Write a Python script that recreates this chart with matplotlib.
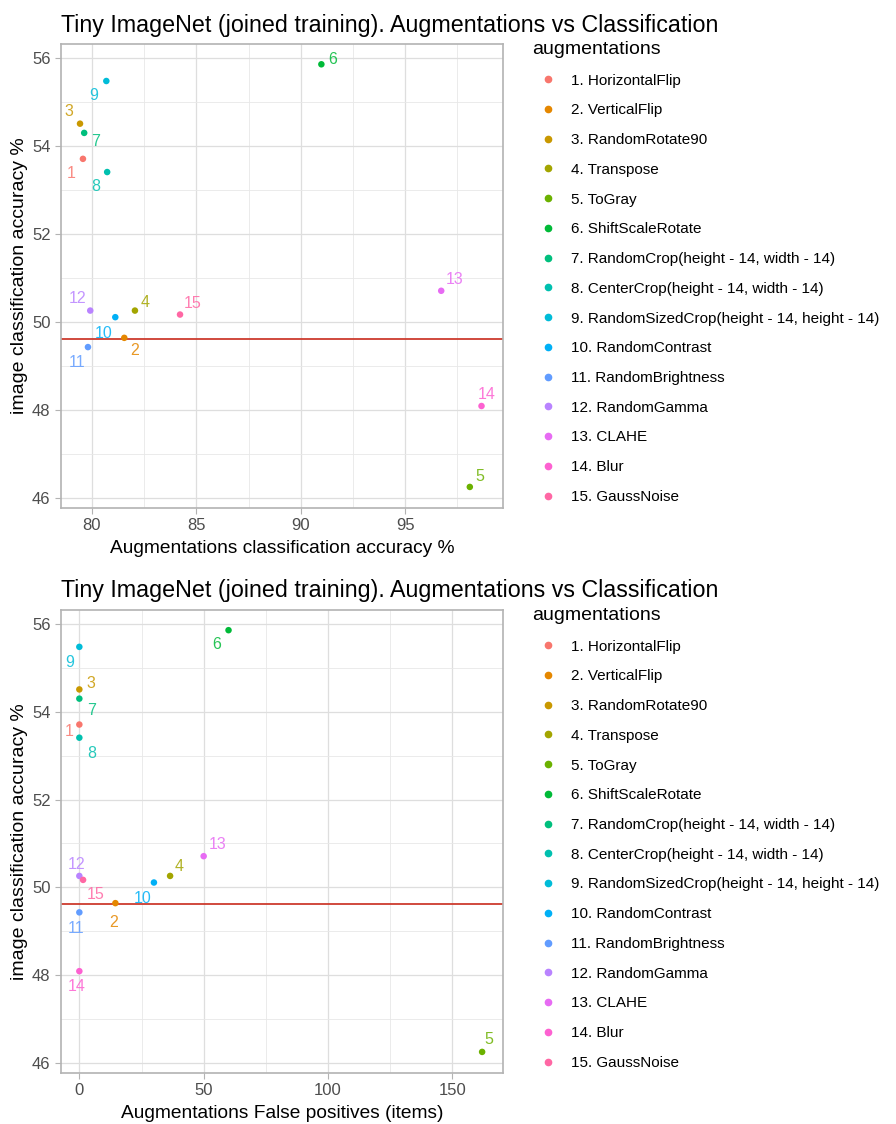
import matplotlib
matplotlib.use("Agg")
import matplotlib.pyplot as plt
from matplotlib.lines import Line2D
from matplotlib.ticker import MultipleLocator

plt.rcParams['font.family'] = ['Liberation Sans', 'DejaVu Sans']

# augmentation names (legend order)
names = [
    "1. HorizontalFlip", "2. VerticalFlip", "3. RandomRotate90", "4. Transpose",
    "5. ToGray", "6. ShiftScaleRotate", "7. RandomCrop(height - 14, width - 14)",
    "8. CenterCrop(height - 14, width - 14)",
    "9. RandomSizedCrop(height - 14, height - 14)", "10. RandomContrast",
    "11. RandomBrightness", "12. RandomGamma", "13. CLAHE", "14. Blur",
    "15. GaussNoise",
]
ids = [str(i) for i in range(1, 16)]

# image classification accuracy % (y in both panels)
img_acc = [53.71, 49.64, 54.51, 50.26, 46.25, 55.86, 54.30, 53.41, 55.48,
           50.11, 49.43, 50.26, 50.71, 48.09, 50.17]
# augmentations classification accuracy % (x, top panel)
aug_acc = [79.57, 81.55, 79.43, 82.06, 98.10, 90.99, 79.63, 80.73, 80.69,
           81.12, 79.81, 79.92, 96.73, 98.66, 84.22]
# augmentations false positives (x, bottom panel)
false_pos = [0, 14.5, 0, 36.5, 162, 60, 0, 0, 0, 30, 0, 0, 50, 0, 1.5]

baseline = 49.61

colors = ["#F8766D", "#E58700", "#C99800", "#A3A500", "#6BB100", "#00BA38",
          "#00BF7D", "#00C0AF", "#00BCD8", "#00B0F6", "#619CFF", "#B983FF",
          "#E76BF3", "#FD61D1", "#FF67A4"]

# label offsets (pixels, x right / y up), mimic the repelled labels
off_top = [(-12, -15), (10, -13), (-11, 12), (10, 8), (10, 10), (11, 5),
           (11, -9), (-11, -14), (-13, -14), (-12, -16), (-11, -15), (-13, 12),
           (13, 11), (5, 12), (13, 11)]
off_bot = [(-10, -7), (-2, -19), (12, 6), (9, 9), (7, 12), (-12, -14),
           (12, -12), (12, -16), (-10, -16), (-11, -16), (-3, -16), (-3, 11),
           (14, 12), (-3, -15), (13, -15)]

fig = plt.figure(figsize=(8.96, 11.24), dpi=100)
ax1 = fig.add_axes([0.0681, 0.548, 0.4933, 0.4128])
ax2 = fig.add_axes([0.0681, 0.0454, 0.4933, 0.4119])

title = "Tiny ImageNet (joined training). Augmentations vs Classification"


def draw(ax, xs, offs, xlabel, xlim, xmaj, xmin):
    ax.set_axisbelow(True)
    ax.scatter(xs, img_acc, c=colors, s=22, zorder=3, linewidths=0)
    for x, y, t, c, o in zip(xs, img_acc, ids, colors, offs):
        ax.annotate(t, (x, y), xytext=o, textcoords='offset pixels',
                    ha='center', va='center', color=c, fontsize=11.5, alpha=0.85)
    ax.axhline(baseline, color="#CD3B2E", lw=1.3, zorder=2)
    ax.set_xlim(*xlim)
    ax.set_ylim(45.77, 56.32)
    ax.xaxis.set_major_locator(MultipleLocator(xmaj))
    ax.xaxis.set_minor_locator(MultipleLocator(xmin))
    ax.yaxis.set_major_locator(MultipleLocator(2))
    ax.yaxis.set_minor_locator(MultipleLocator(1))
    ax.grid(which='major', color="#DEDEDE", lw=0.9)
    ax.grid(which='minor', color="#E8E8E8", lw=0.6)
    for s in ax.spines.values():
        s.set_color("#B3B3B3")
        s.set_linewidth(1.2)
    ax.tick_params(which='major', length=4, color="#B3B3B3", labelsize=12,
                   labelcolor="#4D4D4D")
    ax.tick_params(which='minor', length=0)
    ax.set_xlabel(xlabel, fontsize=13.75, labelpad=5)
    ax.set_ylabel("image classification accuracy %", fontsize=14, labelpad=3)
    ax.set_title(title, fontsize=16.75, loc='left', pad=9, x=0.0)
    handles = [Line2D([], [], marker='o', ls='', color=c, markersize=4.5)
               for c in colors]
    leg = ax.legend(handles, names, loc='upper left', bbox_to_anchor=(1.053, 1.02),
                    frameon=False, fontsize=11, title="augmentations",
                    title_fontsize=14, labelspacing=1.03, handletextpad=0.5,
                    borderaxespad=0)
    leg._legend_box.align = "left"


draw(ax1, aug_acc, off_top, "Augmentations classification accuracy %",
     (78.52, 99.69), 5, 2.5)
draw(ax2, false_pos, off_bot, "Augmentations False positives (items)",
     (-7.37, 170.4), 50, 25)

fig.savefig("out.png", dpi=100)
